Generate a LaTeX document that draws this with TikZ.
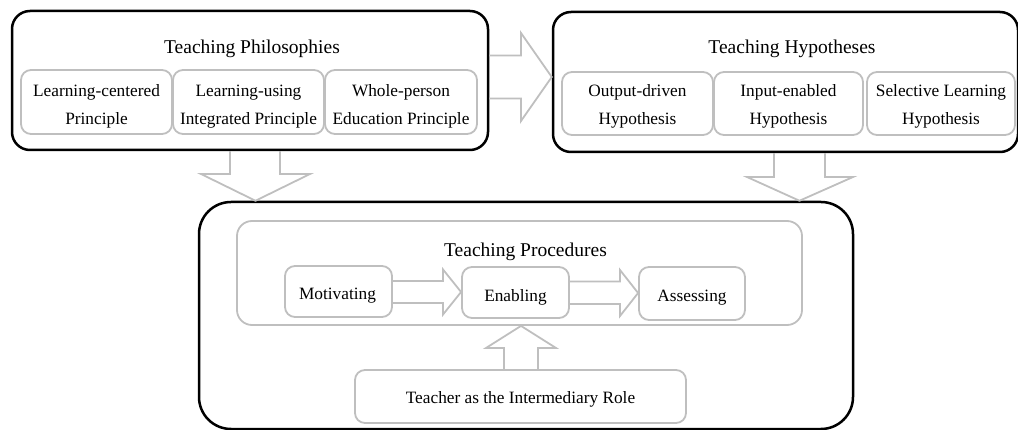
\documentclass[tikz,border=0pt]{standalone}
\usepackage{fontspec}
\setmainfont{Liberation Serif}
\definecolor{boxgray}{HTML}{BFBFBF}
\begin{document}
\begin{tikzpicture}[x=1pt,y=-1pt,
  bigbox/.style={draw=black, line width=2.5pt, rounded corners=18pt, inner sep=0pt},
  graybox/.style={draw=boxgray, line width=1.8pt, rounded corners=10pt, inner sep=0pt},
  blockarrow/.style={draw=boxgray, line width=1.8pt, line join=miter},
  titletext/.style={font=\fontsize{19.5}{24}\selectfont, inner sep=0pt, anchor=base},
  itemtext/.style={font=\fontsize{17.3}{27.8}\selectfont, align=center, inner sep=0pt},
  onetext/.style={font=\fontsize{17.3}{21}\selectfont, inner sep=0pt, anchor=base},
]
\useasboundingbox (0,0) rectangle (1018,430);

% big frames
\node[bigbox, minimum width=476pt, minimum height=139pt] (phil) at (250,80.5) {};
\node[bigbox, minimum width=465pt, minimum height=140pt] (hyp) at (785.5,82) {};
\node[bigbox, rounded corners=32pt, minimum width=654pt, minimum height=227pt] (bot) at (526,315.5) {};

% titles
\node[titletext] (philT) at (252,54) {Teaching Philosophies};
\node[titletext] (hypT) at (792,54) {Teaching Hypotheses};

% philosophy boxes
\node[graybox, minimum width=151pt, minimum height=64pt] (lc) at (96.5,102) {};
\node[graybox, minimum width=151pt, minimum height=64pt] (lu) at (248.5,102) {};
\node[graybox, minimum width=152pt, minimum height=64pt] (wp) at (401,102) {};
\node[itemtext] (lcT) at (96.5,106.5) {Learning-centered\\Principle};
\node[itemtext] (luT) at (248.5,106.5) {Learning-using\\Integrated Principle};
\node[itemtext] (wpT) at (401,106.5) {Whole-person\\Education Principle};

% hypothesis boxes
\node[graybox, minimum width=151pt, minimum height=63pt] (od) at (637.5,103.5) {};
\node[graybox, minimum width=149pt, minimum height=63pt] (ie) at (788.5,103.5) {};
\node[graybox, minimum width=148pt, minimum height=63pt] (sl) at (941,103.5) {};
\node[itemtext] (odT) at (637.5,106.5) {Output-driven\\Hypothesis};
\node[itemtext] (ieT) at (788.5,106.5) {Input-enabled\\Hypothesis};
\node[itemtext] (slT) at (941,106.5) {Selective Learning\\Hypothesis};

% procedures
\node[graybox, rounded corners=15pt, minimum width=565pt, minimum height=104pt] (procin) at (519.5,273) {};
\node[titletext] (procT) at (525.5,257) {Teaching Procedures};
\node[graybox, minimum width=107pt, minimum height=51pt] (mot) at (338.5,291.5) {};
\node[graybox, minimum width=107pt, minimum height=51pt] (ena) at (515.5,292.5) {};
\node[graybox, minimum width=106pt, minimum height=53pt] (ass) at (692,293.5) {};
\node[onetext] (motT) at (337.5,299.5) {Motivating};
\node[onetext] (enaT) at (515.5,302) {Enabling};
\node[onetext] (assT) at (692,302) {Assessing};
\node[graybox, minimum width=331pt, minimum height=53pt] (teacher) at (520.5,396.5) {};
\node[onetext] (teacherT) at (520.5,403) {Teacher as the Intermediary Role};

% block arrows
\draw[blockarrow] (phil.east |- 0,55.5) -| (521,33) -- (hyp.west |- 0,77) -- (521,121) |- (phil.east |- 0,98.5);
\draw[blockarrow] (phil.south -| 230,0) |- (201,174) -- (bot.north -| 255.5,0) -- (310,174) -| (phil.south -| 280,0);
\draw[blockarrow] (hyp.south -| 774,0) |- (747,177) -- (bot.north -| 799.5,0) -- (853,177) -| (hyp.south -| 825,0);
\draw[blockarrow] (mot.east |- 0,281) -| (443,269.5) -- (ena.west |- 0,292) -- (443,314.5) |- (mot.east |- 0,303);
\draw[blockarrow] (ena.east |- 0,281.5) -| (620,270) -- (ass.west |- 0,293) -- (620,316) |- (ena.east |- 0,304);
\draw[blockarrow] (teacher.north -| 504,0) |- (486,348) -- (procin.south -| 521,0) -- (556,348) -| (teacher.north -| 538,0);
\end{tikzpicture}
\end{document}
